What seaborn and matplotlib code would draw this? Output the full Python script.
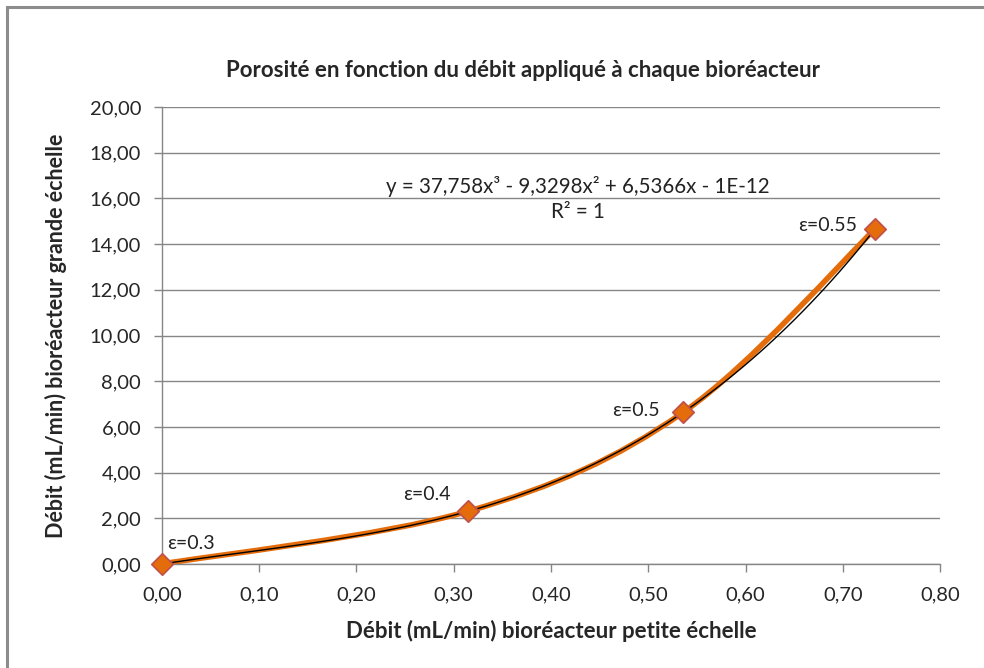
import numpy as np
import pandas as pd
import seaborn as sns
import matplotlib.pyplot as plt
from matplotlib.path import Path
from matplotlib.patches import PathPatch, Rectangle

# data
debit_petite = [0.0, 0.315, 0.536, 0.733]
debit_grande = [0.0, 2.31, 6.64, 14.65]
porosite = ["ε=0.3", "ε=0.4", "ε=0.5", "ε=0.55"]
# label offsets in points (dx, dy) and alignment
label_offsets = [(4, 15, "left"), (-13, 12, "right"), (-17, 1, "right"), (-13, 3, "right")]
x_ticks = [0.0, 0.1, 0.2, 0.3, 0.4, 0.5, 0.6, 0.7, 0.8]
y_ticks = [0, 2, 4, 6, 8, 10, 12, 14, 16, 18, 20]
equation = "y = 37,758x³ - 9,3298x² + 6,5366x - 1E-12"
r2_text = "R² = 1"

df = pd.DataFrame({"petite": debit_petite, "grande": debit_grande})

sns.set_style("white")
plt.rcParams['font.family'] = ['Lato', 'DejaVu Sans']

fig = plt.figure(figsize=(9.84, 6.68), dpi=100)
ax = fig.add_axes([0.1646, 0.1557, 0.7907, 0.6841])

gray = "#868686"
orange = "#E46C0A"

# outer chart frame (only left and top visible in the reference)
fig.patches.append(Rectangle((7 / 984, -0.1), 1.2, 1 - 7 / 668 + 0.1, transform=fig.transFigure,
                             fill=False, edgecolor="#8c8c8c", linewidth=2.2, zorder=0))

# smoothed line (Excel-like bezier through the points)
pts = df[["petite", "grande"]].to_numpy()
n = len(pts)
verts = [pts[0]]
codes = [Path.MOVETO]
for i in range(n - 1):
    p_prev = pts[max(i - 1, 0)]
    p0 = pts[i]
    p1 = pts[i + 1]
    p_next = pts[min(i + 2, n - 1)]
    c1 = p0 + (p1 - p_prev) / 6
    c2 = p1 - (p_next - p0) / 6
    verts += [c1, c2, p1]
    codes += [Path.CURVE4] * 3
ax.add_patch(PathPatch(Path(verts, codes), facecolor="none", edgecolor=orange,
                       linewidth=4, zorder=2, capstyle="round", clip_on=False))

# polynomial trendline (order 3)
sns.regplot(data=df, x="petite", y="grande", order=3, ci=None, scatter=False, ax=ax,
            line_kws={"color": "black", "linewidth": 1.0, "zorder": 3})

sns.scatterplot(data=df, x="petite", y="grande", ax=ax, marker="D", s=120,
                color=orange, edgecolor="#C0504D", linewidth=1.2, zorder=4, clip_on=False)

for xv, yv, lab, (dx, dy, ha) in zip(debit_petite, debit_grande, porosite, label_offsets):
    ax.annotate(lab, (xv, yv), xytext=(dx, dy), textcoords="offset points",
                ha=ha, va="center", fontsize=14, color="#222222")

ax.text(0.535, 0.827, equation, transform=ax.transAxes, ha="center", va="center",
        fontsize=14.8, color="#222222")
ax.text(0.535, 0.770, r2_text, transform=ax.transAxes, ha="center", va="center",
        fontsize=14.8, color="#222222")

ax.set_xlim(0, 0.8)
ax.set_ylim(0, 20)
ax.set_xticks(x_ticks)
ax.set_yticks(y_ticks)
ax.set_xticklabels([f"{v:.2f}".replace(".", ",") for v in x_ticks], fontsize=14.5)
ax.set_yticklabels([f"{v:.2f}".replace(".", ",") for v in y_ticks], fontsize=14.5)
ax.tick_params(axis="both", direction="out", length=6, width=1, color=gray, pad=9,
               bottom=True, left=True)
ax.tick_params(axis="x", pad=10)

ax.yaxis.grid(True, color=gray, linewidth=1)
ax.xaxis.grid(False)
ax.set_axisbelow(True)
for side in ["top", "right"]:
    ax.spines[side].set_visible(False)
for side in ["left", "bottom"]:
    ax.spines[side].set_color(gray)
    ax.spines[side].set_linewidth(1)

ax.set_xlabel("Débit (mL/min) bioréacteur petite échelle", fontsize=16,
              fontweight="bold", labelpad=12)
ax.set_ylabel("Débit (mL/min) bioréacteur grande échelle", fontsize=15.5,
              fontweight="bold", labelpad=16)
fig.text(0.531, 0.895, "Porosité en fonction du débit appliqué à chaque bioréacteur",
         ha="center", va="center", fontsize=16, fontweight="bold")

fig.savefig("out.png", dpi=100)
